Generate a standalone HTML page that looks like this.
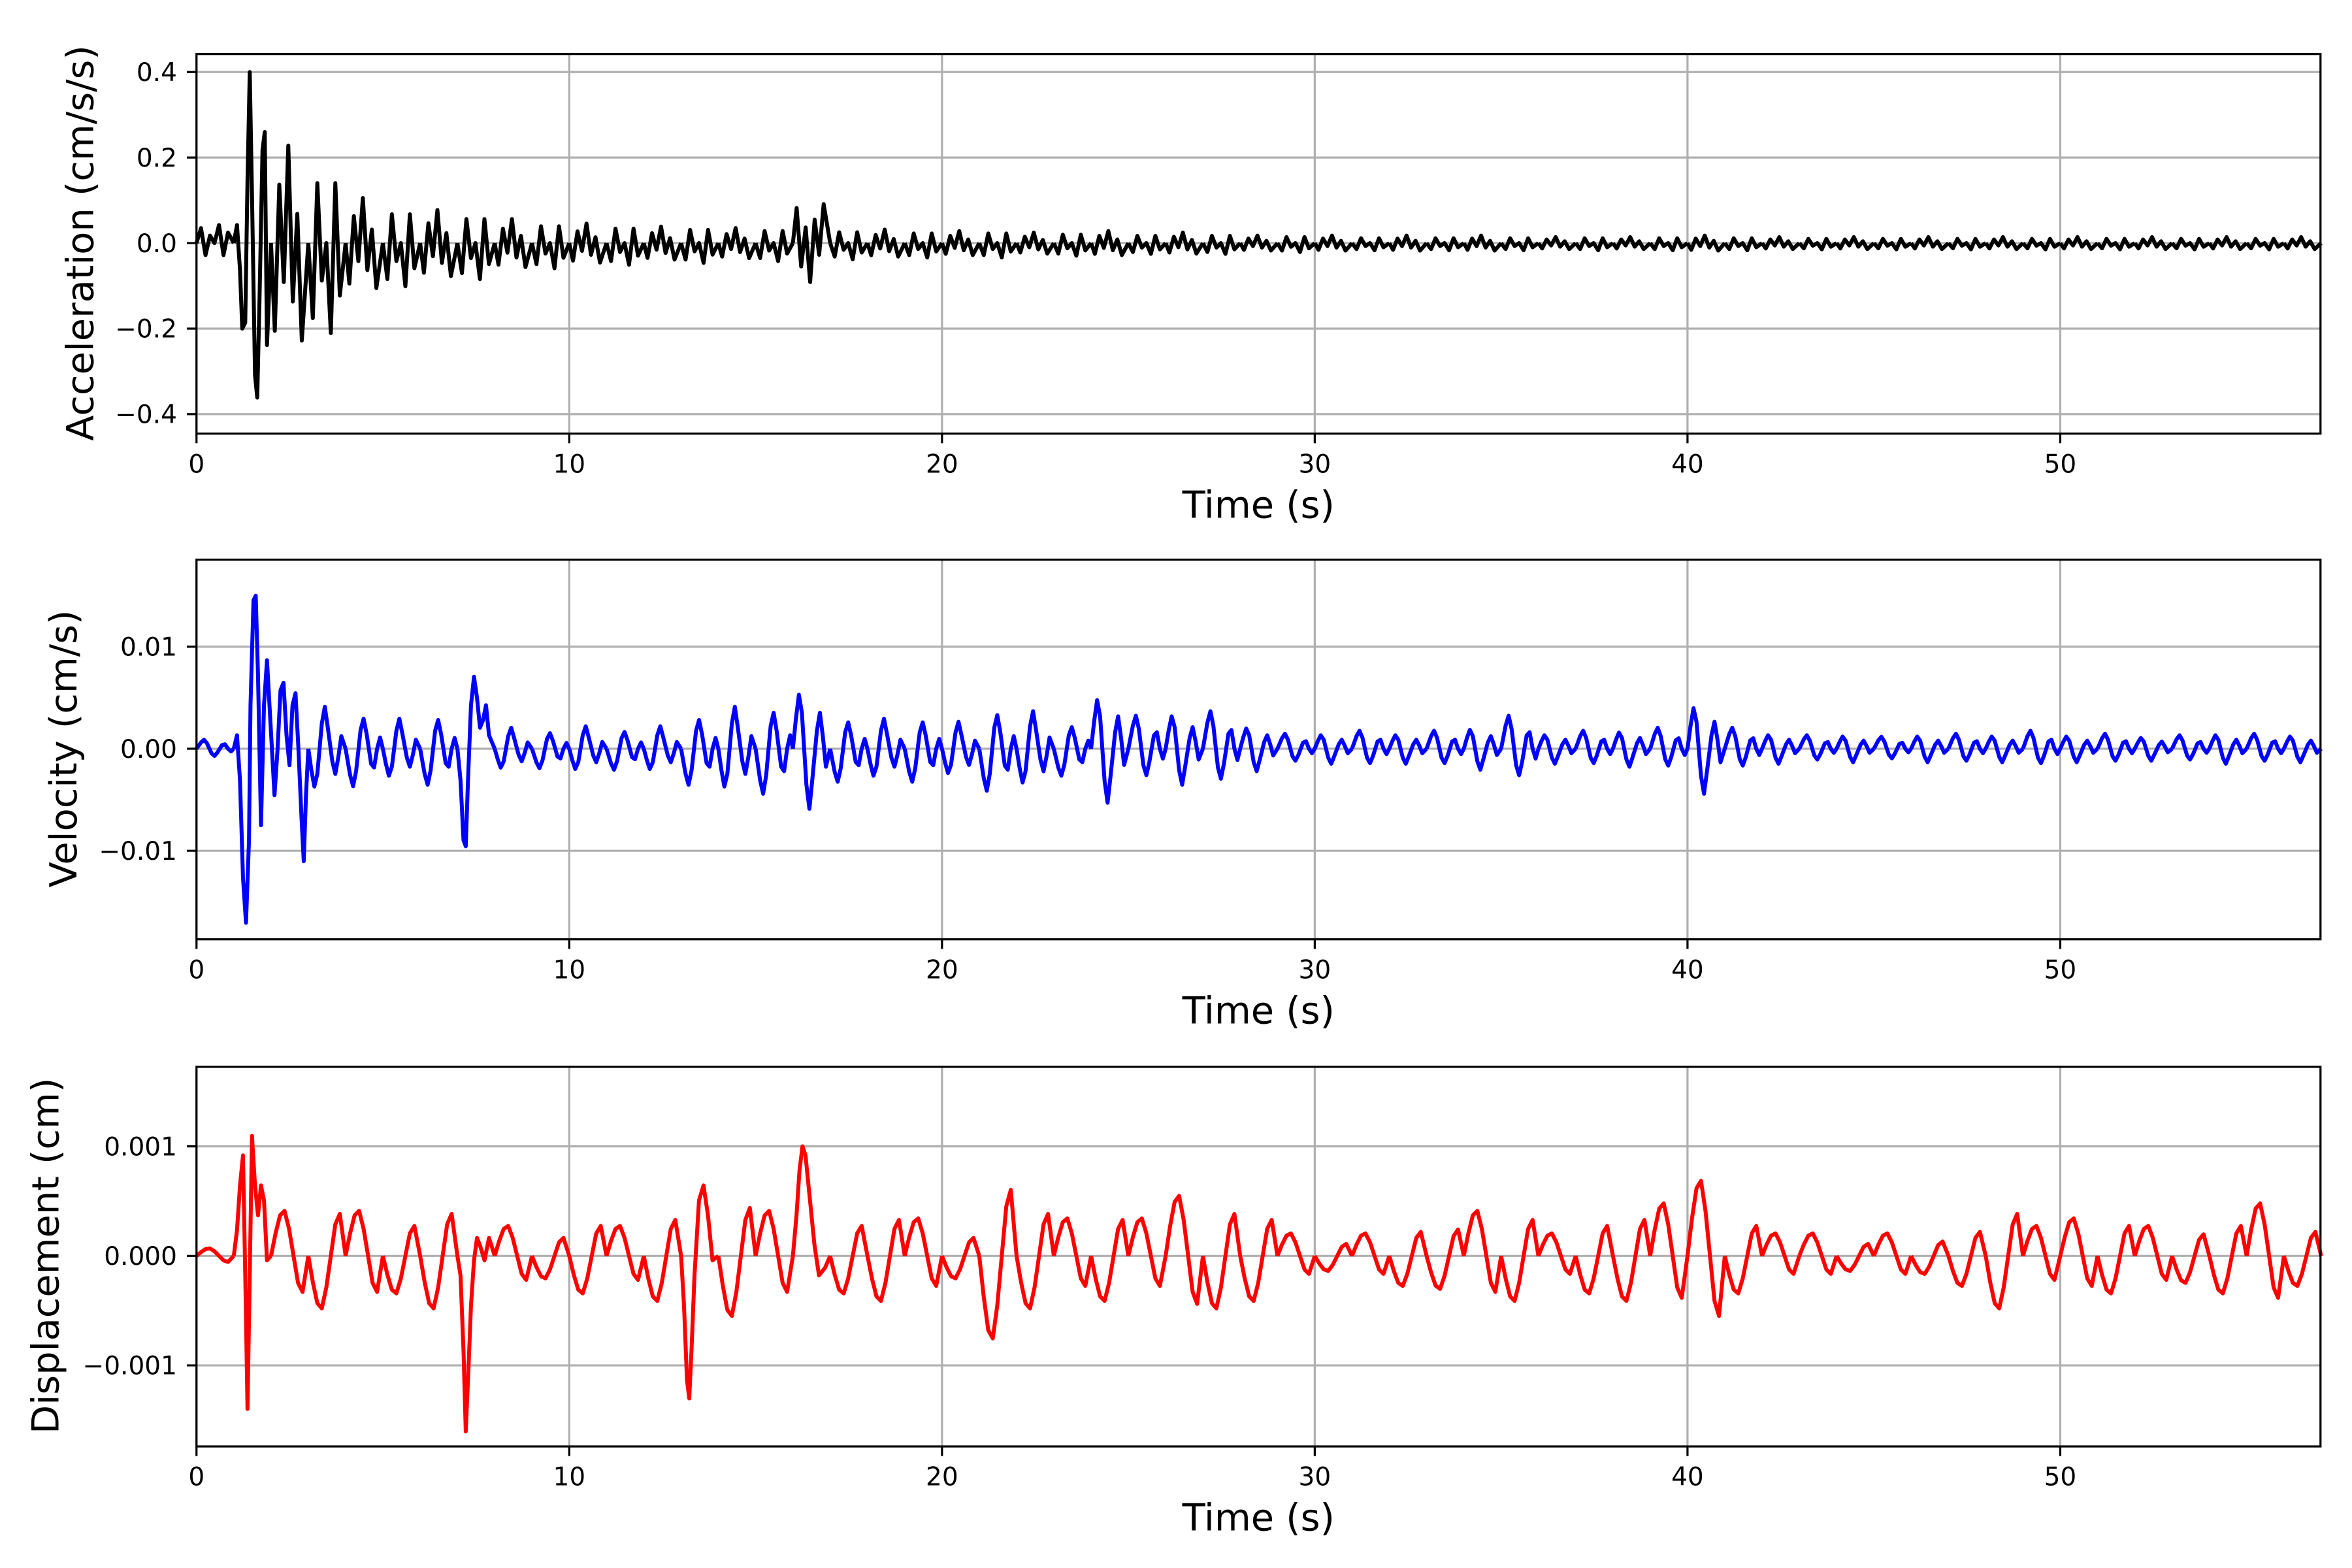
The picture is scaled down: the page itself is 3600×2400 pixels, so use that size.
<!DOCTYPE html>
<html><head><meta charset="utf-8"><style>html,body{margin:0;padding:0;background:#fff}svg{display:block}</style></head>
<body>
<svg width="3600" height="2400" viewBox="0 0 1568 1045" preserveAspectRatio="none" xmlns="http://www.w3.org/2000/svg" font-family="DejaVu Sans, Liberation Sans, sans-serif">
<defs>
<path id="a1" vector-effect="non-scaling-stroke" d="M0,0 L3,-1 6,0.8 9,-0.5 12,0 15,-1.2 18,0.8 21,-0.7 24.85,0"/>
<path id="a2" vector-effect="non-scaling-stroke" d="M0,0 L2.5,0.9 5.5,-0.6 8.5,0.4 11.5,-1 14.5,0.6 17.5,-0.3 20.5,1 24.85,0"/>
<path id="v1" vector-effect="non-scaling-stroke" d="M0,0 L3,-0.7 5,-1 7,-0.6 10,0.5 12,0.8 14,0.4 17,-0.4 19,-0.5 21,0 23,0.3 24.85,0"/>
<path id="v2" vector-effect="non-scaling-stroke" d="M0,0 L2,0.5 4,0.9 6,0.6 9,-0.6 11,-1 13,-0.5 16,0.3 18,0.6 20,0.2 22,-0.3 24.85,0"/>
<path id="d1" vector-effect="non-scaling-stroke" d="M0,0 L3,-0.5 6,-0.9 9,-1 12,-0.6 15,0 18,0.6 21,0.8 24.85,0"/>
</defs>
<rect width="1568" height="1045" fill="#fff"/>
<g stroke="#b0b0b0" stroke-width="1.4">
<line x1="131" x2="131" y1="36" y2="289"/><line x1="379.5" x2="379.5" y1="36" y2="289"/><line x1="628" x2="628" y1="36" y2="289"/><line x1="876.5" x2="876.5" y1="36" y2="289"/><line x1="1125" x2="1125" y1="36" y2="289"/><line x1="1373.5" x2="1373.5" y1="36" y2="289"/>
<line x1="131" x2="131" y1="373" y2="626"/><line x1="379.5" x2="379.5" y1="373" y2="626"/><line x1="628" x2="628" y1="373" y2="626"/><line x1="876.5" x2="876.5" y1="373" y2="626"/><line x1="1125" x2="1125" y1="373" y2="626"/><line x1="1373.5" x2="1373.5" y1="373" y2="626"/>
<line x1="131" x2="131" y1="711" y2="964"/><line x1="379.5" x2="379.5" y1="711" y2="964"/><line x1="628" x2="628" y1="711" y2="964"/><line x1="876.5" x2="876.5" y1="711" y2="964"/><line x1="1125" x2="1125" y1="711" y2="964"/><line x1="1373.5" x2="1373.5" y1="711" y2="964"/>
<line x1="131" x2="1547" y1="48" y2="48"/><line x1="131" x2="1547" y1="105" y2="105"/><line x1="131" x2="1547" y1="162" y2="162"/><line x1="131" x2="1547" y1="219" y2="219"/><line x1="131" x2="1547" y1="276" y2="276"/>
<line x1="131" x2="1547" y1="431" y2="431"/><line x1="131" x2="1547" y1="499" y2="499"/><line x1="131" x2="1547" y1="567" y2="567"/>
<line x1="131" x2="1547" y1="764" y2="764"/><line x1="131" x2="1547" y1="837" y2="837"/><line x1="131" x2="1547" y1="910" y2="910"/>
</g>
<g fill="none" stroke="#000" stroke-width="6" stroke-linejoin="round">
<path vector-effect="non-scaling-stroke" d="M155.85,162 L158,150 160,180 161.5,219 163.5,215 165,120 166.5,48 168,130 170,250 171.5,265 173,200 175,100 176.5,88 178,230 180.7,162"/>
<use href="#a1" transform="translate(131,162) scale(1,10)"/>
<use href="#a2" transform="translate(180.7,162) scale(1,65)"/>
<use href="#a1" transform="translate(205.55,162) scale(1,-50)"/>
<use href="#a2" transform="translate(230.4,162) scale(1,30)"/>
<use href="#a1" transform="translate(255.25,162) scale(1,-24)"/>
<use href="#a2" transform="translate(280.1,162) scale(1,22)"/>
<use href="#a1" transform="translate(304.95,162) scale(1,-20)"/>
<use href="#a2" transform="translate(329.8,162) scale(1,16)"/>
<use href="#a1" transform="translate(354.65,162) scale(1,-14)"/>
<use href="#a2" transform="translate(379.5,162) scale(1,13)"/>
<use href="#a1" transform="translate(404.35,162) scale(1,-12)"/>
<use href="#a2" transform="translate(429.2,162) scale(1,11)"/>
<use href="#a1" transform="translate(454.05,162) scale(1,-11)"/>
<use href="#a2" transform="translate(478.9,162) scale(1,10)"/>
<use href="#a1" transform="translate(503.75,162) scale(1,-10)"/>
<use href="#a2" transform="translate(528.6,162) scale(1,-26)"/>
<use href="#a1" transform="translate(553.45,162) scale(1,-9)"/>
<use href="#a2" transform="translate(578.3,162) scale(1,9)"/>
<use href="#a1" transform="translate(603.15,162) scale(1,-8)"/>
<use href="#a2" transform="translate(628,162) scale(1,8)"/>
<use href="#a1" transform="translate(652.85,162) scale(1,-8)"/>
<use href="#a2" transform="translate(677.7,162) scale(1,7)"/>
<use href="#a1" transform="translate(702.55,162) scale(1,-7)"/>
<use href="#a2" transform="translate(727.4,162) scale(1,8)"/>
<use href="#a1" transform="translate(752.25,162) scale(1,-6)"/>
<use href="#a2" transform="translate(777.1,162) scale(1,7)"/>
<use href="#a1" transform="translate(801.95,162) scale(1,-6)"/>
<use href="#a2" transform="translate(826.8,162) scale(1,5)"/>
<use href="#a1" transform="translate(851.65,162) scale(1,-5)"/>
<use href="#a2" transform="translate(876.5,162) scale(1,5)"/>
<use href="#a1" transform="translate(901.35,162) scale(1,-4)"/>
<use href="#a2" transform="translate(926.2,162) scale(1,5)"/>
<use href="#a1" transform="translate(951.05,162) scale(1,-4)"/>
<use href="#a2" transform="translate(975.9,162) scale(1,5)"/>
<use href="#a1" transform="translate(1000.75,162) scale(1,-4)"/>
<use href="#a2" transform="translate(1025.6,162) scale(1,4)"/>
<use href="#a1" transform="translate(1050.45,162) scale(1,-4)"/>
<use href="#a2" transform="translate(1075.3,162) scale(1,4)"/>
<use href="#a1" transform="translate(1100.15,162) scale(1,-4)"/>
<use href="#a2" transform="translate(1125,162) scale(1,5)"/>
<use href="#a1" transform="translate(1149.85,162) scale(1,-4)"/>
<use href="#a2" transform="translate(1174.7,162) scale(1,4)"/>
<use href="#a1" transform="translate(1199.55,162) scale(1,-3.5)"/>
<use href="#a2" transform="translate(1224.4,162) scale(1,4)"/>
<use href="#a1" transform="translate(1249.25,162) scale(1,-3.5)"/>
<use href="#a2" transform="translate(1274.1,162) scale(1,4)"/>
<use href="#a1" transform="translate(1298.95,162) scale(1,-3.5)"/>
<use href="#a2" transform="translate(1323.8,162) scale(1,4)"/>
<use href="#a1" transform="translate(1348.65,162) scale(1,-3.5)"/>
<use href="#a2" transform="translate(1373.5,162) scale(1,4)"/>
<use href="#a1" transform="translate(1398.35,162) scale(1,-3.5)"/>
<use href="#a2" transform="translate(1423.2,162) scale(1,4)"/>
<use href="#a1" transform="translate(1448.05,162) scale(1,-3.5)"/>
<use href="#a2" transform="translate(1472.9,162) scale(1,4)"/>
<use href="#a1" transform="translate(1497.75,162) scale(1,-3.5)"/>
<use href="#a2" transform="translate(1522.6,162) scale(1,4)"/>
</g>
<g fill="none" stroke="#0000ff" stroke-width="6" stroke-linejoin="round">
<use href="#v1" transform="translate(131,499) scale(1,6)"/>
<path vector-effect="non-scaling-stroke" d="M155.85,499 L158,490 160,520 162,585 164,615 166,560 167,470 169,400 170.5,397 172,450 174,550 176,470 178,440 180.5,485 183,530 185,500 187,460 189,455 191,490 193,510 195,470 197,462 199,500 201,545 202.5,574 204,530 205.55,499"/>
<use href="#v2" transform="translate(205.55,499) scale(1,28)"/>
<use href="#v1" transform="translate(230.4,499) scale(1,-25)"/>
<use href="#v2" transform="translate(255.25,499) scale(1,20)"/>
<use href="#v1" transform="translate(280.1,499) scale(1,-24)"/>
<path vector-effect="non-scaling-stroke" d="M304.95,499 L307,520 309,560 310.5,564 312,520 314,470 316,451 318,465 320,485 322,480 324,470 326,490 329.8,499"/>
<use href="#v2" transform="translate(329.8,499) scale(1,14)"/>
<use href="#v1" transform="translate(354.65,499) scale(1,-13)"/>
<use href="#v2" transform="translate(379.5,499) scale(1,15)"/>
<use href="#v1" transform="translate(404.35,499) scale(1,-14)"/>
<use href="#v2" transform="translate(429.2,499) scale(1,15)"/>
<use href="#v1" transform="translate(454.05,499) scale(1,-24)"/>
<use href="#v2" transform="translate(478.9,499) scale(1,28)"/>
<use href="#v1" transform="translate(503.75,499) scale(1,-30)"/>
<use href="#v2" transform="translate(528.6,499) scale(1,-40)"/>
<use href="#v1" transform="translate(553.45,499) scale(1,-22)"/>
<use href="#v2" transform="translate(578.3,499) scale(1,20)"/>
<use href="#v1" transform="translate(603.15,499) scale(1,-22)"/>
<use href="#v2" transform="translate(628,499) scale(1,18)"/>
<use href="#v1" transform="translate(652.85,499) scale(1,-28)"/>
<use href="#v2" transform="translate(677.7,499) scale(1,25)"/>
<use href="#v1" transform="translate(702.55,499) scale(1,-18)"/>
<use href="#v2" transform="translate(727.4,499) scale(1,-36)"/>
<use href="#v1" transform="translate(752.25,499) scale(1,22)"/>
<use href="#v2" transform="translate(777.1,499) scale(1,-24)"/>
<use href="#v1" transform="translate(801.95,499) scale(1,25)"/>
<use href="#v2" transform="translate(826.8,499) scale(1,-15)"/>
<use href="#v1" transform="translate(851.65,499) scale(1,10)"/>
<use href="#v2" transform="translate(876.5,499) scale(1,-10)"/>
<use href="#v1" transform="translate(901.35,499) scale(1,12)"/>
<use href="#v2" transform="translate(926.2,499) scale(1,-10)"/>
<use href="#v1" transform="translate(951.05,499) scale(1,12)"/>
<use href="#v2" transform="translate(975.9,499) scale(1,-14)"/>
<use href="#v1" transform="translate(1000.75,499) scale(1,22)"/>
<use href="#v2" transform="translate(1025.6,499) scale(1,-10)"/>
<use href="#v1" transform="translate(1050.45,499) scale(1,12)"/>
<use href="#v2" transform="translate(1075.3,499) scale(1,-12)"/>
<use href="#v1" transform="translate(1100.15,499) scale(1,14)"/>
<use href="#v2" transform="translate(1125,499) scale(1,-30)"/>
<use href="#v1" transform="translate(1149.85,499) scale(1,14)"/>
<use href="#v2" transform="translate(1174.7,499) scale(1,-10)"/>
<use href="#v1" transform="translate(1199.55,499) scale(1,9)"/>
<use href="#v2" transform="translate(1224.4,499) scale(1,-9)"/>
<use href="#v1" transform="translate(1249.25,499) scale(1,8)"/>
<use href="#v2" transform="translate(1274.1,499) scale(1,-9)"/>
<use href="#v1" transform="translate(1298.95,499) scale(1,10)"/>
<use href="#v2" transform="translate(1323.8,499) scale(1,-9)"/>
<use href="#v1" transform="translate(1348.65,499) scale(1,12)"/>
<use href="#v2" transform="translate(1373.5,499) scale(1,-9)"/>
<use href="#v1" transform="translate(1398.35,499) scale(1,10)"/>
<use href="#v2" transform="translate(1423.2,499) scale(1,-8)"/>
<use href="#v1" transform="translate(1448.05,499) scale(1,9)"/>
<use href="#v2" transform="translate(1472.9,499) scale(1,-10)"/>
<use href="#v1" transform="translate(1497.75,499) scale(1,10)"/>
<use href="#v2" transform="translate(1522.6,499) scale(1,-9)"/>
</g>
<g fill="none" stroke="#ff0000" stroke-width="6" stroke-linejoin="round">
<use href="#d1" transform="translate(131,837) scale(1,5)"/>
<path vector-effect="non-scaling-stroke" d="M155.85,837 L158,820 160,790 162,770 163.5,850 165,939 166.5,850 168,757 170,790 172,810 174,790 176,800 178,840 180.7,837"/>
<use href="#d1" transform="translate(180.7,837) scale(1,30)"/>
<use href="#d1" transform="translate(205.55,837) scale(1,-35)"/>
<use href="#d1" transform="translate(230.4,837) scale(1,30)"/>
<use href="#d1" transform="translate(255.25,837) scale(1,-25)"/>
<use href="#d1" transform="translate(280.1,837) scale(1,-35)"/>
<path vector-effect="non-scaling-stroke" d="M304.95,837 L307,850 309,900 310.5,954 312,920 314,870 316,840 318,825 320,830 323,840 326,825 329.8,837"/>
<use href="#d1" transform="translate(329.8,837) scale(1,20)"/>
<use href="#d1" transform="translate(354.65,837) scale(1,-15)"/>
<use href="#d1" transform="translate(379.5,837) scale(1,-25)"/>
<use href="#d1" transform="translate(404.35,837) scale(1,20)"/>
<use href="#d1" transform="translate(429.2,837) scale(1,-30)"/>
<path vector-effect="non-scaling-stroke" d="M454.05,837 L456,870 458,920 459.5,932 461,900 463,850 466,800 469,790 472,810 475,840 478.9,837"/>
<use href="#d1" transform="translate(478.9,837) scale(1,-40)"/>
<use href="#d1" transform="translate(503.75,837) scale(1,30)"/>
<path vector-effect="non-scaling-stroke" d="M528.6,837 L531,810 533,780 535,764 537,770 540,800 543,830 546,850 550,845 553.45,837"/>
<use href="#d1" transform="translate(553.45,837) scale(1,-25)"/>
<use href="#d1" transform="translate(578.3,837) scale(1,-30)"/>
<use href="#d1" transform="translate(603.15,837) scale(1,25)"/>
<use href="#d1" transform="translate(628,837) scale(1,-15)"/>
<use href="#d1" transform="translate(652.85,837) scale(1,-55)"/>
<use href="#d1" transform="translate(677.7,837) scale(1,-35)"/>
<use href="#d1" transform="translate(702.55,837) scale(1,25)"/>
<use href="#d1" transform="translate(727.4,837) scale(1,-30)"/>
<use href="#d1" transform="translate(752.25,837) scale(1,25)"/>
<use href="#d1" transform="translate(777.1,837) scale(1,40)"/>
<use href="#d1" transform="translate(801.95,837) scale(1,-35)"/>
<use href="#d1" transform="translate(826.8,837) scale(1,-30)"/>
<use href="#d1" transform="translate(851.65,837) scale(1,15)"/>
<use href="#d1" transform="translate(876.5,837) scale(1,-10)"/>
<use href="#d1" transform="translate(901.35,837) scale(1,15)"/>
<use href="#d1" transform="translate(926.2,837) scale(1,-20)"/>
<use href="#d1" transform="translate(951.05,837) scale(1,-22)"/>
<use href="#d1" transform="translate(975.9,837) scale(1,30)"/>
<use href="#d1" transform="translate(1000.75,837) scale(1,-30)"/>
<use href="#d1" transform="translate(1025.6,837) scale(1,15)"/>
<use href="#d1" transform="translate(1050.45,837) scale(1,-25)"/>
<use href="#d1" transform="translate(1075.3,837) scale(1,-30)"/>
<use href="#d1" transform="translate(1100.15,837) scale(1,35)"/>
<use href="#d1" transform="translate(1125,837) scale(1,50)"/>
<use href="#d1" transform="translate(1149.85,837) scale(1,-25)"/>
<use href="#d1" transform="translate(1174.7,837) scale(1,15)"/>
<use href="#d1" transform="translate(1199.55,837) scale(1,15)"/>
<use href="#d1" transform="translate(1224.4,837) scale(1,-10)"/>
<use href="#d1" transform="translate(1249.25,837) scale(1,15)"/>
<use href="#d1" transform="translate(1274.1,837) scale(1,-12)"/>
<use href="#d1" transform="translate(1298.95,837) scale(1,-20)"/>
<use href="#d1" transform="translate(1323.8,837) scale(1,-35)"/>
<use href="#d1" transform="translate(1348.65,837) scale(1,20)"/>
<use href="#d1" transform="translate(1373.5,837) scale(1,25)"/>
<use href="#d1" transform="translate(1398.35,837) scale(1,-25)"/>
<use href="#d1" transform="translate(1423.2,837) scale(1,20)"/>
<use href="#d1" transform="translate(1448.05,837) scale(1,-18)"/>
<use href="#d1" transform="translate(1472.9,837) scale(1,-25)"/>
<use href="#d1" transform="translate(1497.75,837) scale(1,35)"/>
<use href="#d1" transform="translate(1522.6,837) scale(1,-20)"/>
</g>
<g fill="none" stroke="#000" stroke-width="1.4">
<rect x="131" y="36" width="1416" height="253"/>
<rect x="131" y="373" width="1416" height="253"/>
<rect x="131" y="711" width="1416" height="253"/>
<path d="M131,289v6.4M379.5,289v6.4M628,289v6.4M876.5,289v6.4M1125,289v6.4M1373.5,289v6.4M131,626v6.4M379.5,626v6.4M628,626v6.4M876.5,626v6.4M1125,626v6.4M1373.5,626v6.4M131,964v6.4M379.5,964v6.4M628,964v6.4M876.5,964v6.4M1125,964v6.4M1373.5,964v6.4M124.6,48h6.4M124.6,105h6.4M124.6,162h6.4M124.6,219h6.4M124.6,276h6.4M124.6,431h6.4M124.6,499h6.4M124.6,567h6.4M124.6,764h6.4M124.6,837h6.4M124.6,910h6.4"/>
</g>
<g font-size="17" fill="#000" text-anchor="middle">
<text x="131" y="315">0</text><text x="379.5" y="315">10</text><text x="628" y="315">20</text><text x="876.5" y="315">30</text><text x="1125" y="315">40</text><text x="1373.5" y="315">50</text>
<text x="131" y="652">0</text><text x="379.5" y="652">10</text><text x="628" y="652">20</text><text x="876.5" y="652">30</text><text x="1125" y="652">40</text><text x="1373.5" y="652">50</text>
<text x="131" y="990">0</text><text x="379.5" y="990">10</text><text x="628" y="990">20</text><text x="876.5" y="990">30</text><text x="1125" y="990">40</text><text x="1373.5" y="990">50</text>
</g>
<g font-size="17" fill="#000" text-anchor="end">
<text x="118" y="54">0.4</text><text x="118" y="111">0.2</text><text x="118" y="168">0.0</text><text x="118" y="225">−0.2</text><text x="118" y="282">−0.4</text>
<text x="118" y="437">0.01</text><text x="118" y="505">0.00</text><text x="118" y="573">−0.01</text>
<text x="118" y="770">0.001</text><text x="118" y="843">0.000</text><text x="118" y="916">−0.001</text>
</g>
<g font-size="25" fill="#000" text-anchor="middle">
<text x="839" y="345">Time (s)</text><text x="839" y="682">Time (s)</text><text x="839" y="1020">Time (s)</text>
<text transform="translate(62,162) rotate(-90)">Acceleration (cm/s/s)</text>
<text transform="translate(51,499) rotate(-90)">Velocity (cm/s)</text>
<text transform="translate(39,837) rotate(-90)">Displacement (cm)</text>
</g>
</svg>
</body></html>
